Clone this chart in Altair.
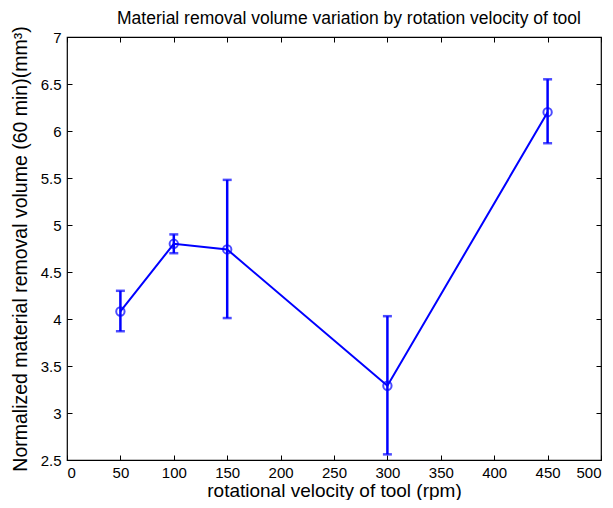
import altair as alt
import pandas as pd

rpm = [50, 100, 150, 300, 450]
volume = [4.08, 4.80, 4.74, 3.29, 6.20]
err_low = [3.87, 4.70, 4.01, 2.56, 5.87]
err_high = [4.30, 4.90, 5.48, 4.03, 6.55]
x_ticks = [0, 50, 100, 150, 200, 250, 300, 350, 400, 450, 500]
y_ticks = [2.5, 3, 3.5, 4, 4.5, 5, 5.5, 6, 6.5, 7]

df = pd.DataFrame({"rpm": rpm, "vol": volume, "lo": err_low, "hi": err_high})

BLUE = "#0000ff"
FONT = "Liberation Sans"
xs = alt.Scale(domain=[0, 500], nice=False, zero=False)
ys = alt.Scale(domain=[2.5, 7], nice=False, zero=False)

x_bottom = alt.Axis(orient="bottom", values=x_ticks, offset=-5, tickSize=5, labelPadding=5,
                    domain=False, grid=False, tickColor="black", labelColor="black",
                    labelFont=FONT, labelFontSize=15, title="rotational velocity of tool (rpm)",
                    titleFont=FONT, titleFontSize=19, titleFontWeight="normal", titlePadding=1,
                    titleColor="black")
y_left = alt.Axis(orient="left", values=y_ticks, offset=-5, tickSize=5, labelPadding=6,
                  domain=False, grid=False, tickColor="black", labelColor="black", format=".1~f",
                  labelFont=FONT, labelFontSize=15,
                  title="Normalized material removal volume (60 min)(mm³)",
                  titleFont=FONT, titleFontSize=19.5, titleFontWeight="normal", titlePadding=10,
                  titleColor="black")
x_top = alt.Axis(orient="top", values=x_ticks, offset=-5, tickSize=5, labels=False,
                 domain=False, grid=False, tickColor="black", title=None)
y_right = alt.Axis(orient="right", values=y_ticks, offset=-5, tickSize=5, labels=False,
                   domain=False, grid=False, tickColor="black", title=None)

base = alt.Chart(df)

line = base.mark_line(color=BLUE, strokeWidth=2).encode(
    x=alt.X("rpm:Q", scale=xs, axis=x_bottom),
    y=alt.Y("vol:Q", scale=ys, axis=y_left),
)
bars = base.mark_rule(color=BLUE, strokeWidth=2.5).encode(
    x=alt.X("rpm:Q", scale=xs, axis=None),
    y=alt.Y("lo:Q", scale=ys, axis=None),
    y2="hi:Q",
)
cap_lo = base.mark_tick(color=BLUE, orient="horizontal", size=9, thickness=2.5).encode(
    x=alt.X("rpm:Q", scale=xs, axis=None),
    y=alt.Y("lo:Q", scale=ys, axis=None),
)
cap_hi = base.mark_tick(color=BLUE, orient="horizontal", size=9, thickness=2.5).encode(
    x=alt.X("rpm:Q", scale=xs, axis=None),
    y=alt.Y("hi:Q", scale=ys, axis=None),
)
pts = base.mark_point(color=BLUE, shape="circle", size=70, strokeWidth=2, filled=False).encode(
    x=alt.X("rpm:Q", scale=xs, axis=None),
    y=alt.Y("vol:Q", scale=ys, axis=None),
)
frame = base.mark_point(opacity=0).encode(
    x=alt.X("rpm:Q", scale=xs, axis=x_top),
    y=alt.Y("vol:Q", scale=ys, axis=y_right),
)

chart = alt.layer(line, bars, cap_lo, cap_hi, pts, frame).resolve_axis(
    x="independent", y="independent"
).properties(
    width=534,
    height=423,
    autosize=alt.AutoSizeParams(type="none"),
    padding={"left": 59, "top": 29, "right": 4, "bottom": 40},
    background="white",
    title=alt.TitleParams("Material removal volume variation by rotation velocity of tool",
                          font=FONT, fontSize=17.5, fontWeight="normal", color="black",
                          anchor="middle", offset=2, dy=4, dx=15),
).configure_view(stroke="black", strokeWidth=1.2)

chart.save("out.html", embed_options={"renderer": "svg", "actions": False})
